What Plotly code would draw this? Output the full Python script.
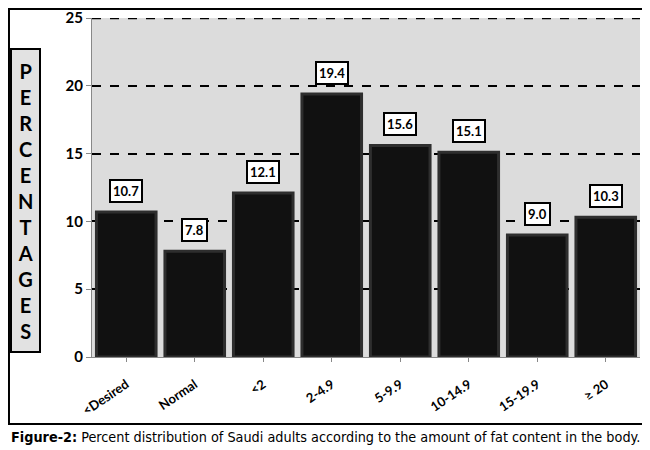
import plotly.graph_objects as go

# data
categories = ['<Desired', 'Normal', '<2', '2-4.9', '5-9.9', '10-14.9', '15-19.9', '≥ 20']
percentages = [10.7, 7.8, 12.1, 19.4, 15.6, 15.1, 9.0, 10.3]
y_ticks = [0, 5, 10, 15, 20, 25]

fig = go.Figure()
fig.add_trace(go.Bar(
    x=categories,
    y=percentages,
    marker=dict(color='#111111', line=dict(color='#2e2e2e', width=3)),
    showlegend=False,
    hoverinfo='x+y'
))

# value labels in white boxes above bars
for cat, val in zip(categories, percentages):
    fig.add_annotation(
        x=cat, y=val, text='<b>%.1f</b>' % val,
        showarrow=False, yshift=21,
        font=dict(family='Lato', size=13, color='black'),
        bgcolor='white', bordercolor='black', borderwidth=2, borderpad=2
    )

# boxed vertical axis title
fig.add_annotation(
    xref='paper', yref='paper', x=-0.1214, y=0.4617,
    xanchor='center', yanchor='middle',
    text='<b>' + '<br>'.join('PERCENTAGES') + '</b>',
    showarrow=False, width=25, height=299,
    font=dict(family='Lato', size=20, color='black'),
    bgcolor='#e2e2e2', bordercolor='black', borderwidth=2
)

# caption under the chart
fig.add_annotation(
    xref='paper', yref='paper', x=-0.1515, y=-0.236,
    xanchor='left', yanchor='middle', showarrow=False,
    text='<b>Figure-2:</b> Percent distribution of Saudi adults according to the amount of fat content in the body.',
    font=dict(family='DejaVu Sans Condensed, Roboto, sans-serif', size=14.3, color='black')
)

# heavier dashed line at the top of the scale
fig.add_shape(type='line', xref='paper', yref='y', x0=0, x1=1,
              y0=y_ticks[-1], y1=y_ticks[-1],
              line=dict(color='black', width=2.5, dash='dash'))

# outer frame
fig.add_shape(type='rect', xref='paper', yref='paper',
              x0=-0.1515, x1=1.0128, y0=-0.1976, y1=1.0265,
              line=dict(color='black', width=2), layer='below')

# the page adds an 8px body margin, so the figure is 8px smaller each way
fig.update_layout(
    width=642, height=442,
    margin=dict(l=84, r=10, t=10, b=93),
    paper_bgcolor='white',
    plot_bgcolor='#dcdcdc',
    bargap=0.13,
    font=dict(family='Lato', color='black'),
    xaxis=dict(
        tickangle=-34,
        tickfont=dict(family='Lato', size=13, color='black', weight='bold'),
        showline=True, linecolor='#888888', linewidth=1,
        ticks='outside', ticklen=4, tickcolor='#888888',
        ticklabelstandoff=10, automargin=False,
        showgrid=False
    ),
    yaxis=dict(
        range=[0, 25], tickvals=y_ticks,
        tickfont=dict(family='Lato', size=15, color='black', weight='bold'),
        ticklabeloverflow='allow', automargin=False,
        showline=True, linecolor='#888888', linewidth=1,
        ticks='outside', ticklen=5, tickcolor='#888888',
        showgrid=True, gridcolor='black', gridwidth=1.5, griddash='dash',
        zeroline=False
    )
)

fig.write_html("out.html")
